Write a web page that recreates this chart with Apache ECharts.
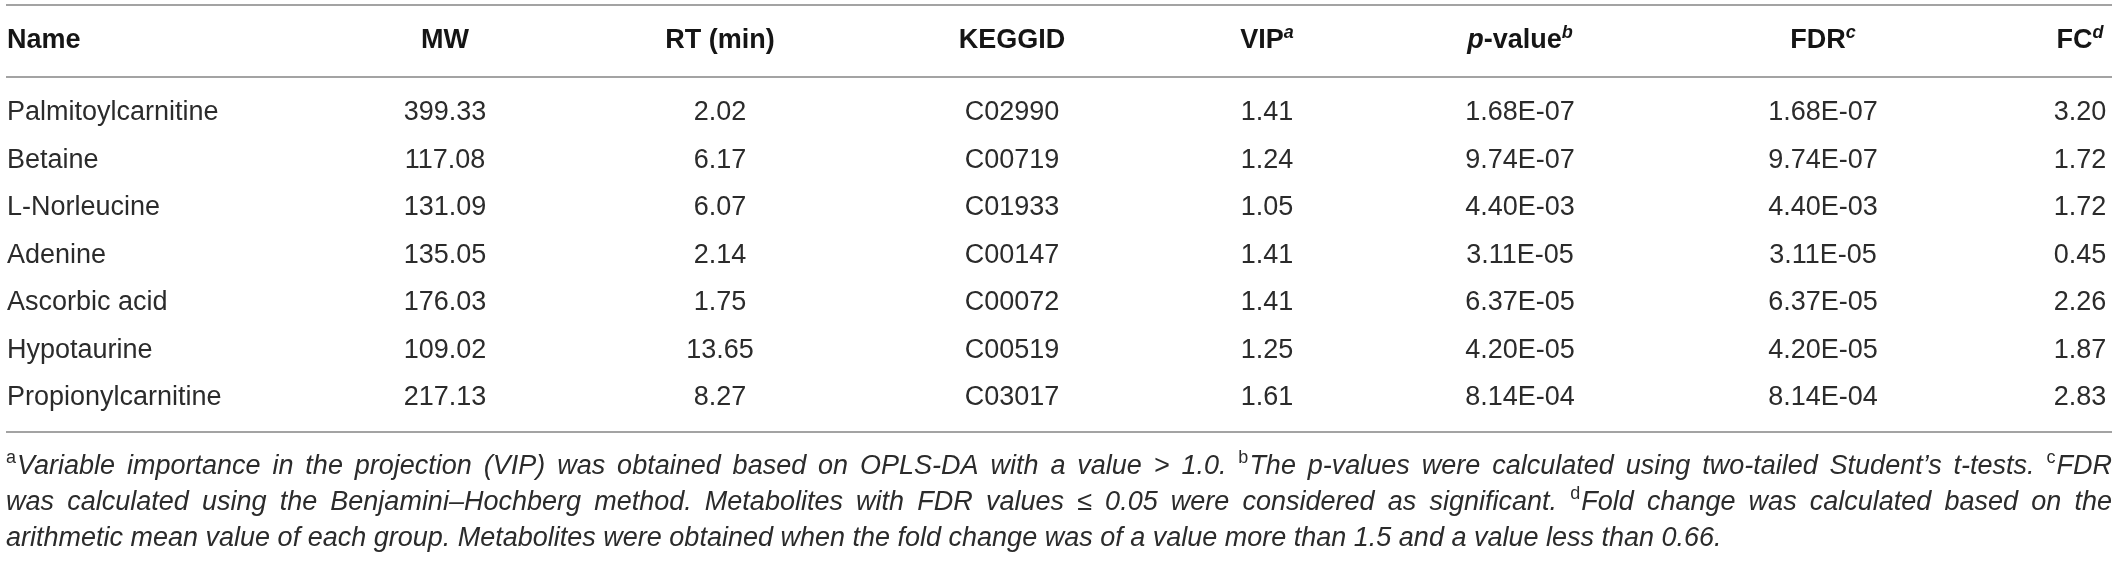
<!DOCTYPE html>
<html>
<head>
<meta charset="utf-8">
<script src="https://cdn.jsdelivr.net/npm/echarts@6/dist/echarts.min.js"></script>
<style>
  html, body { margin: 0; padding: 0; background: #fff; }
  #table-chart { width: 2118px; height: 561px; }
</style>
</head>
<body>
<div id="table-chart"></div>
<script>
// table content
const columnNames = ["Name", "MW", "RT (min)", "KEGGID", "VIP", "p-value", "FDR", "FC"];
const columnNotes = ["", "", "", "", "a", "b", "c", "d"];

const metabolites = ["Palmitoylcarnitine", "Betaine", "L-Norleucine", "Adenine", "Ascorbic acid", "Hypotaurine", "Propionylcarnitine"];
const molWeight = [399.33, 117.08, 131.09, 135.05, 176.03, 109.02, 217.13];
const retentionTime = [2.02, 6.17, 6.07, 2.14, 1.75, 13.65, 8.27];
const keggIds = ["C02990", "C00719", "C01933", "C00147", "C00072", "C00519", "C03017"];
const vipScore = [1.41, 1.24, 1.05, 1.41, 1.41, 1.25, 1.61];
const pValues = [1.68e-7, 9.74e-7, 4.40e-3, 3.11e-5, 6.37e-5, 4.20e-5, 8.14e-4];
const fdrValues = [1.68e-7, 9.74e-7, 4.40e-3, 3.11e-5, 6.37e-5, 4.20e-5, 8.14e-4];
const foldChange = [3.20, 1.72, 1.72, 0.45, 2.26, 1.87, 2.83];

const footnoteLines = [
  "^aVariable importance in the projection (VIP) was obtained based on OPLS-DA with a value > 1.0. ^bThe p-values were calculated using two-tailed Student\u2019s t-tests. ^cFDR",
  "was calculated using the Benjamini\u2013Hochberg method. Metabolites with FDR values \u2264 0.05 were considered as significant. ^dFold change was calculated based on the",
  "arithmetic mean value of each group. Metabolites were obtained when the fold change was of a value more than 1.5 and a value less than 0.66.",
];

// layout (pixels)
const COL_X = [7, 445, 720, 1012, 1267, 1520, 1823, 2080];
const RULE_Y = [5, 77, 432];
const HEADER_Y = 41;
const NOTE_Y = [466, 502, 538];
const LEFT = 6, RIGHT = 2112;
const NOTE_SIZE = 27;
const SUP_SIZE = 18;

const FONT = '"Liberation Sans", Arial, sans-serif';
const TEXT_COLOR = "#2b2b2b";

function fmt2(v) {
  return v.toFixed(2);
}

function fmtSci(v) {
  const [m, e] = v.toExponential(2).split("e");
  const n = Math.abs(Number(e));
  return m + "E" + (Number(e) < 0 ? "-" : "+") + String(n).padStart(2, "0");
}

const cellText = [
  metabolites,
  molWeight.map(fmt2),
  retentionTime.map(fmt2),
  keggIds,
  vipScore.map(fmt2),
  pValues.map(fmtSci),
  fdrValues.map(fmtSci),
  foldChange.map(fmt2),
];

const measureCtx = document.createElement("canvas").getContext("2d");
function textWidth(str, size, style) {
  measureCtx.font = `${style || "normal"} ${size}px ${FONT}`;
  return measureCtx.measureText(str).width;
}

function headerGraphics() {
  return columnNames.map((name, c) => {
    let text = name === "p-value" ? "{pi|p}{b|-value}" : `{b|${name}}`;
    if (columnNotes[c]) text += `{s|${columnNotes[c]}}`;
    return {
      type: "text",
      x: COL_X[c],
      y: HEADER_Y,
      style: {
        text,
        align: c === 0 ? "left" : "center",
        verticalAlign: "middle",
        rich: {
          b: { fontSize: 27, fontWeight: "bold", fontFamily: FONT, fill: "#151515", lineHeight: 34 },
          pi: { fontSize: 27, fontWeight: "bold", fontStyle: "italic", fontFamily: FONT, fill: "#151515", lineHeight: 34 },
          s: { fontSize: 18, fontWeight: "bold", fontStyle: "italic", fontFamily: FONT, fill: "#151515", lineHeight: 18, verticalAlign: "top" },
        },
      },
    };
  });
}

// footnotes: one text per word so lines can be justified like the printed table
function footnoteGraphics() {
  const out = [];
  footnoteLines.forEach((line, li) => {
    const y = NOTE_Y[li];
    const words = line.split(" ").map((w) => {
      const m = w.match(/^\^(\w)(.*)$/);
      return m ? { sup: m[1], word: m[2] } : { sup: "", word: w };
    });
    const supW = words.map((w) => (w.sup ? textWidth(w.sup, SUP_SIZE) + 1 : 0));
    const widths = words.map((w, i) => supW[i] + textWidth(w.word, NOTE_SIZE, "italic"));
    const total = widths.reduce((a, b) => a + b, 0);
    const justify = li < footnoteLines.length - 1;
    const gap = justify ? (RIGHT - LEFT - total) / (words.length - 1) : textWidth(" ", NOTE_SIZE, "italic");
    let x = LEFT;
    words.forEach((w, i) => {
      if (w.sup) {
        out.push({
          type: "text", x, y: y - 8,
          style: { text: w.sup, fontSize: SUP_SIZE, fontFamily: FONT, fill: TEXT_COLOR, verticalAlign: "middle" },
        });
      }
      out.push({
        type: "text", x: x + supW[i], y,
        style: { text: w.word, fontSize: NOTE_SIZE, fontStyle: "italic", fontFamily: FONT, fill: TEXT_COLOR, verticalAlign: "middle" },
      });
      x += widths[i] + gap;
    });
  });
  return out;
}

function ruleGraphics() {
  return RULE_Y.map((y) => ({
    type: "line",
    shape: { x1: LEFT, y1: y, x2: RIGHT, y2: y },
    style: { stroke: "#a3a3a3", lineWidth: 2 },
  }));
}

const cells = [];
metabolites.forEach((_, r) => {
  columnNames.forEach((_, c) => cells.push([c, r]));
});

const chart = echarts.init(document.getElementById("table-chart"));

chart.setOption({
  backgroundColor: "#fff",
  animation: false,
  grid: { left: 0, right: 0, top: 89.25, bottom: 139.25, outerBoundsMode: "none" },
  xAxis: { type: "value", min: 0, max: 2118, show: false },
  yAxis: { type: "category", data: metabolites, inverse: true, show: false },
  graphic: [...ruleGraphics(), ...headerGraphics(), ...footnoteGraphics()],
  series: [{
    type: "custom",
    data: cells,
    renderItem: (params, api) => {
      const c = api.value(0);
      const r = api.value(1);
      const pt = api.coord([COL_X[c], r]);
      return {
        type: "text",
        x: pt[0],
        y: pt[1],
        style: {
          text: cellText[c][r],
          fontSize: 27,
          fontFamily: FONT,
          fill: TEXT_COLOR,
          align: c === 0 ? "left" : "center",
          verticalAlign: "middle",
        },
      };
    },
  }],
});
</script>
</body>
</html>
